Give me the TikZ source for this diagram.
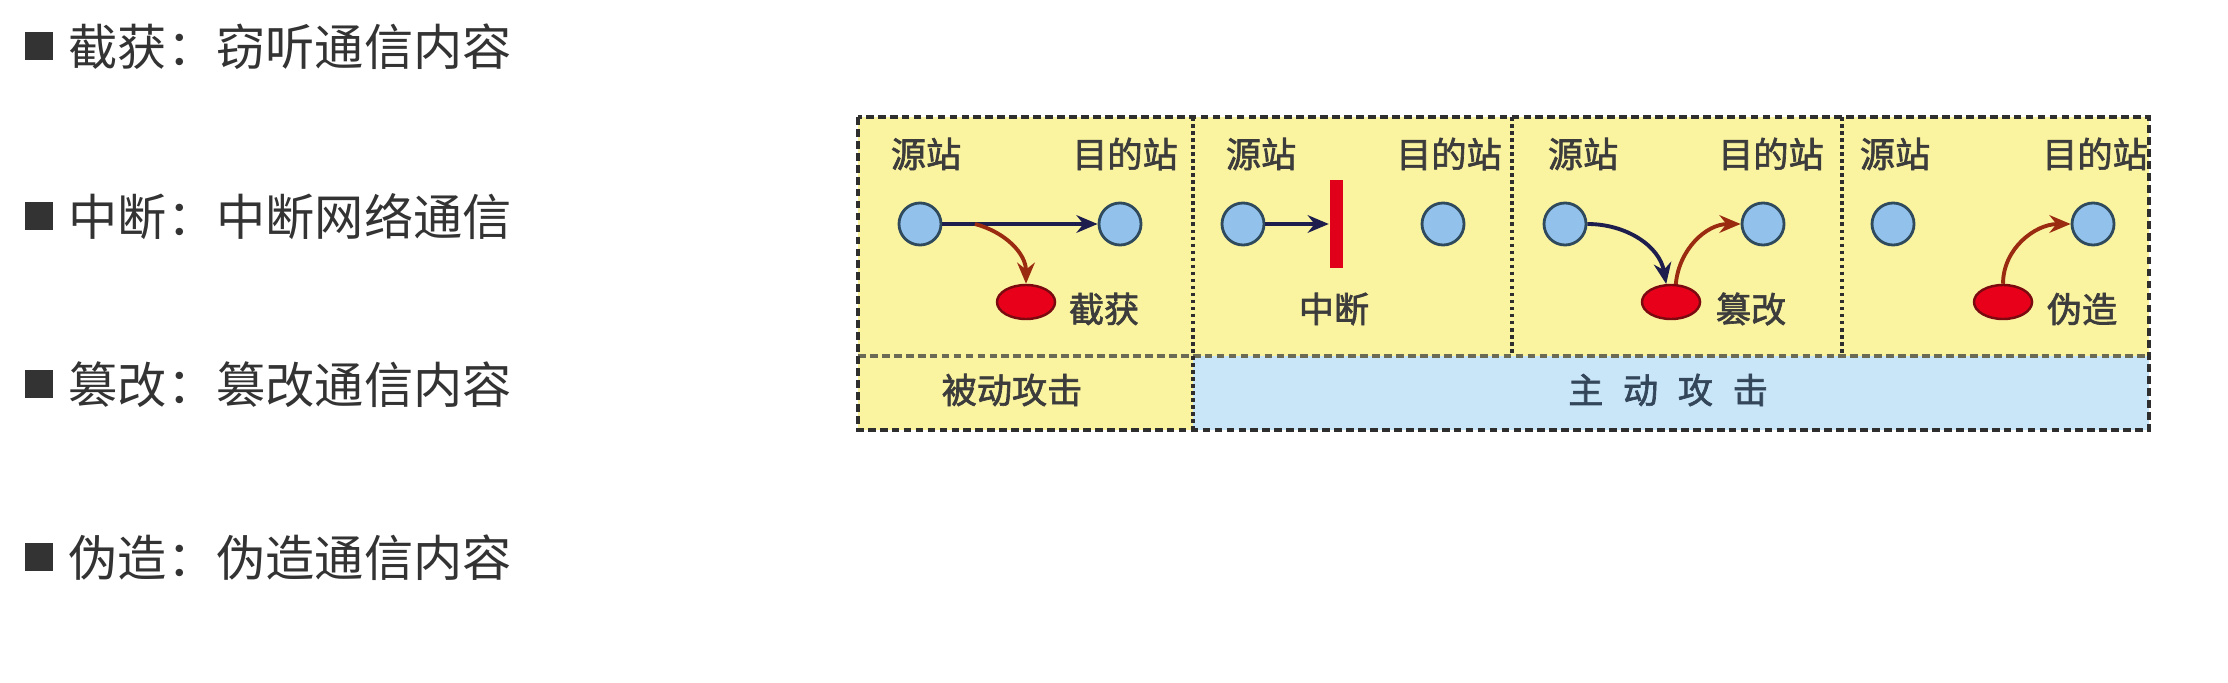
\documentclass[tikz,border=0pt]{standalone}
\usepackage{fontspec}
\setmainfont{Noto Sans CJK SC}
\newfontfamily\lblfont[FakeBold=1.8]{Noto Sans CJK SC}
\usetikzlibrary{arrows.meta,shapes.geometric}
\definecolor{txt}{HTML}{333333}
\definecolor{lbltxt}{HTML}{3C3C3C}
\definecolor{activetxt}{HTML}{34475A}
\definecolor{yel}{HTML}{FAF3A0}
\definecolor{blu}{HTML}{C9E6F8}
\definecolor{dashcol}{HTML}{2E2E2E}
\definecolor{divcol}{HTML}{6A6A55}
\definecolor{circfill}{HTML}{92C1EC}
\definecolor{circborder}{HTML}{2E4A5C}
\definecolor{ellfill}{HTML}{E8001A}
\definecolor{ellborder}{HTML}{7A0A10}
\definecolor{msgcol}{HTML}{1E1E4E}
\definecolor{fakecol}{HTML}{9A2A10}
\definecolor{fakehead}{HTML}{D42A14}
\definecolor{barcol}{HTML}{E0001A}
\begin{document}
\begin{tikzpicture}[x=0.01cm,y=-0.01cm,
  bulletsq/.style={fill=txt,draw=none,minimum size=0.28cm,inner sep=0},
  item/.style={anchor=west,text=txt,font=\fontsize{14pt}{16pt}\selectfont,inner sep=0},
  lbl/.style={text=lbltxt,font=\lblfont\fontsize{10pt}{12pt}\selectfont,inner sep=0},
  station/.style={circle,draw=circborder,fill=circfill,line width=0.8pt,minimum size=0.42cm,inner sep=0},
  attacker/.style={ellipse,draw=ellborder,fill=ellfill,line width=0.7pt,minimum width=0.58cm,minimum height=0.34cm,inner sep=0},
  cutbar/.style={rectangle,fill=barcol,draw=none,minimum width=0.13cm,minimum height=0.87cm,inner sep=0},
  msg/.style={draw=msgcol,line width=1.1pt,-{Stealth[length=6pt,width=5pt]}},
  fake/.style={draw=fakecol,line width=1.1pt,-{Stealth[length=6pt,width=5pt,fill=fakehead]}},
  outerdash/.style={draw=dashcol,line width=1pt,dash pattern=on 2.2pt off 1.2pt},
  hdiv/.style={draw=divcol,line width=0.9pt,dash pattern=on 2.2pt off 1.2pt},
  vdiv/.style={draw=dashcol,line width=0.9pt,dash pattern=on 1pt off 1pt}]
\useasboundingbox[fill=white] (0,0) rectangle (2228,682);

% left list
\node[bulletsq] (b1) at (39,46) {};
\node[item] (t1) at (68,47) {截获：窃听通信内容};
\node[bulletsq] (b2) at (39,216) {};
\node[item] (t2) at (68,217) {中断：中断网络通信};
\node[bulletsq] (b3) at (39,384) {};
\node[item] (t3) at (68,385) {篡改：篡改通信内容};
\node[bulletsq] (b4) at (39,557) {};
\node[item] (t4) at (68,558) {伪造：伪造通信内容};

% backgrounds
\fill[yel] (858,117) rectangle (2149,356);
\fill[yel] (858,356) rectangle (1193,430);
\fill[blu] (1193,356) rectangle (2149,430);

% dividers
\draw[hdiv] (858,356) -- (2149,356);
\draw[vdiv] (1193,117) -- (1193,430);
\draw[vdiv] (1512,117) -- (1512,356);
\draw[vdiv] (1842,117) -- (1842,356);
\draw[outerdash] (858,117) rectangle (2149,430);

% panel 1: interception
\node[lbl] (src1l) at (926,154) {源站};
\node[lbl] (dst1l) at (1125,154) {目的站};
\node[station] (s1) at (920,224) {};
\node[station] (d1) at (1120,224) {};
\node[attacker] (e1) at (1026,302) {};
\node[lbl] (a1l) at (1104,309) {截获};
\draw[msg] (s1.east) -- (d1.west);
\coordinate (tap) at (975,224);
\draw[fake] (tap) to[out=-15,in=90] (e1.north);

% panel 2: interruption
\node[lbl] (src2l) at (1261,154) {源站};
\node[lbl] (dst2l) at (1449,154) {目的站};
\node[station] (s2) at (1243,224) {};
\node[station] (d2) at (1443,224) {};
\node[cutbar] (bar) at (1336,224) {};
\node[lbl] (a2l) at (1334,309) {中断};
\draw[msg] (s2.east) -- (bar.west);

% panel 3: modification
\node[lbl] (src3l) at (1583,154) {源站};
\node[lbl] (dst3l) at (1771,154) {目的站};
\node[station] (s3) at (1565,224) {};
\node[station] (d3) at (1763,224) {};
\node[attacker] (e3) at (1671,302) {};
\node[lbl] (a3l) at (1751,309) {篡改};
\draw[msg] (s3.east) to[out=0,in=100] (e3.105);
\draw[fake] (e3.75) to[out=85,in=180] (d3.west);

% panel 4: fabrication
\node[lbl] (src4l) at (1895,154) {源站};
\node[lbl] (dst4l) at (2095,154) {目的站};
\node[station] (s4) at (1893,224) {};
\node[station] (d4) at (2093,224) {};
\node[attacker] (e4) at (2003,302) {};
\node[lbl] (a4l) at (2082,309) {伪造};
\draw[fake] (e4.north) to[out=90,in=180] (d4.west);

% bottom labels
\node[lbl] (passive) at (1012,390) {被动攻击};
\node[lbl,text=activetxt] (active) at (1668,390) {主\hspace{5.6pt}动\hspace{5.6pt}攻\hspace{5.6pt}击};
\end{tikzpicture}
\end{document}
